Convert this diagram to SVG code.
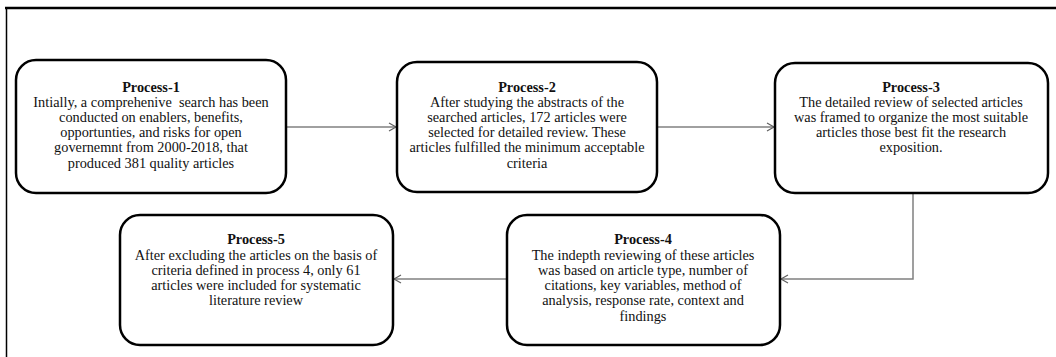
<svg xmlns="http://www.w3.org/2000/svg" width="1056" height="357" viewBox="0 0 1056 357">
<defs>
<style>
.box{fill:#fff;stroke:#000;stroke-width:2.5}
.t{font-family:"Liberation Serif","Times New Roman",serif;font-size:14.3px;fill:#111;text-anchor:middle;white-space:pre}
.h{font-weight:bold}
.c{fill:none;stroke:#808080;stroke-width:1.5}
</style>
<marker id="ah" markerWidth="10" markerHeight="10" refX="8" refY="5" orient="auto" markerUnits="userSpaceOnUse">
<path d="M1,1 L8,5 L1,9" fill="none" stroke="#606060" stroke-width="1.2"/>
</marker>
</defs>
<rect x="0" y="0" width="1056" height="357" fill="#fff"/>
<g id="frame">
<line x1="5" y1="8" x2="1056" y2="8" stroke="#000" stroke-width="2.5"/>
<line x1="6.5" y1="8" x2="6.5" y2="357" stroke="#000" stroke-width="1.5"/>
</g>
<g id="connectors">
<path class="c" d="M286,127 L396,127" marker-end="url(#ah)"/>
<path class="c" d="M657,127 L774,127" marker-end="url(#ah)"/>
<path class="c" d="M913,193 L913,279 L781,279" marker-end="url(#ah)"/>
<path class="c" d="M507,279 L394,279" marker-end="url(#ah)"/>
</g>
<g id="process1">
<rect class="box" x="16" y="60" width="270" height="133" rx="20"/>
<text class="t h" x="151" y="92">Process-1</text>
<text class="t" x="151" y="107" xml:space="preserve">Intially, a comprehenive  search has been</text>
<text class="t" x="151" y="122">conducted on enablers, benefits,</text>
<text class="t" x="151" y="137">opportunties, and risks for open</text>
<text class="t" x="151" y="152">governemnt from 2000-2018, that</text>
<text class="t" x="151" y="168">produced 381 quality articles</text>
</g>
<g id="process2">
<rect class="box" x="397" y="62" width="260" height="130" rx="20"/>
<text class="t h" x="527" y="92">Process-2</text>
<text class="t" x="527" y="107">After studying the abstracts of the</text>
<text class="t" x="527" y="122">searched articles, 172 articles were</text>
<text class="t" x="527" y="137">selected for detailed review. These</text>
<text class="t" x="527" y="152">articles fulfilled the minimum acceptable</text>
<text class="t" x="527" y="168">criteria</text>
</g>
<g id="process3">
<rect class="box" x="775" y="63" width="273" height="130" rx="20"/>
<text class="t h" x="911" y="92">Process-3</text>
<text class="t" x="911" y="107">The detailed review of selected articles</text>
<text class="t" x="911" y="122">was framed to organize the most suitable</text>
<text class="t" x="911" y="137">articles those best fit the research</text>
<text class="t" x="911" y="152">exposition.</text>
</g>
<g id="process4">
<rect class="box" x="507" y="215" width="273" height="130" rx="20"/>
<text class="t h" x="643" y="244">Process-4</text>
<text class="t" x="643" y="260">The indepth reviewing of these articles</text>
<text class="t" x="643" y="275">was based on article type, number of</text>
<text class="t" x="643" y="290">citations, key variables, method of</text>
<text class="t" x="643" y="305">analysis, response rate, context and</text>
<text class="t" x="643" y="321">findings</text>
</g>
<g id="process5">
<rect class="box" x="120" y="215" width="273" height="130" rx="20"/>
<text class="t h" x="256" y="244">Process-5</text>
<text class="t" x="256" y="260">After excluding the articles on the basis of</text>
<text class="t" x="256" y="275">criteria defined in process 4, only 61</text>
<text class="t" x="256" y="290">articles were included for systematic</text>
<text class="t" x="256" y="305">literature review</text>
</g>
</svg>
